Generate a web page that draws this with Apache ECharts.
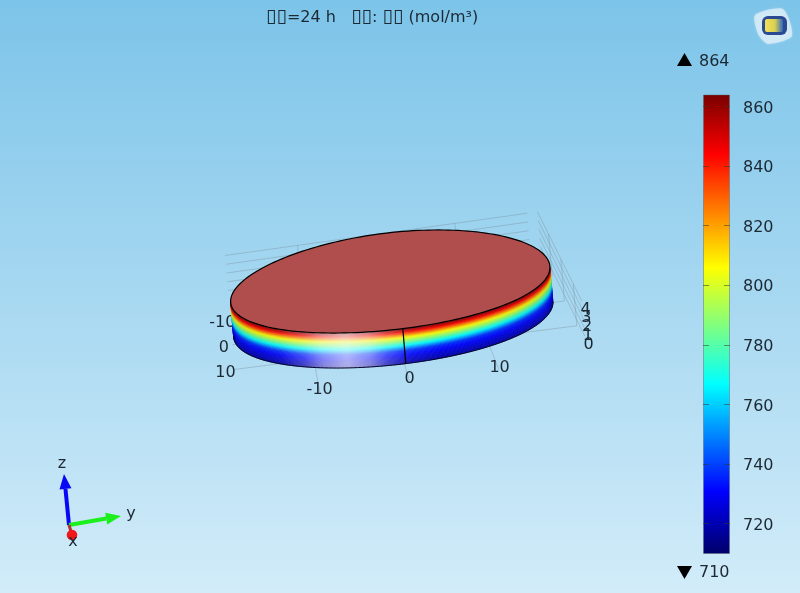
<!DOCTYPE html>
<html><head><meta charset="utf-8">
<style>html,body{margin:0;padding:0;background:#fff}#c{width:800px;height:593px}</style>
<script src="https://cdn.jsdelivr.net/npm/echarts@6/dist/echarts.min.js"></script></head>
<body><div id="c"></div>
<script>
// ---- data ----
const titleParts = ['{b|\u25AF\u25AF}=24 h   {b|\u25AF\u25AF}: {b|\u25AF\u25AF} (mol/m\u00B3)'];
const colorMax = 864, colorMin = 710;
const colorbarTicks = [720,740,760,780,800,820,840,860];
const colormapValues = [710,731,767,806,844,864];
const colormapColors = [[0,0,105],[0,0,255],[0,255,255],[255,255,0],[255,0,0],[120,0,0]];
const xTicks = [-10,0,10];
const yTicks = [-10,0,10];
const zTicks = [0,1,2,3,4];
const discRadius = 19, discHeight = 4;
// concentration on the rim against height
const sideHeights = [4,3.88,3.64,3.32,3.0,2.52,2.08,1.52,0.8,0.15,0];
const sideValues  = [862,858,845,825,805,785,765,737,727,719,715];
// rim lighting against the rim angle (degrees)
const shadeAngles = [-120,-90,-60,-30,0,30,60,90,120];
const shadeFactor = [0.8,0.85,0.93,0.98,0.98,0.96,0.9,0.8,0.72];
const glowAngles = [-56,-46,-36,-29,-20,-12,-6,2,12];
const glowAmount = [0,0.05,0.25,0.5,0.68,0.5,0.25,0.05,0];
const triadAxes = [
  {name:'z', color:'#0808f4', vec:[-5,-51], label:[-7,-61]},
  {name:'y', color:'#1cf01c', vec:[52,-9], label:[62,-11]},
  {name:'x', color:'#f01818', vec:[3,10], label:[4,17]}
];
// ---- projection of the model to the page ----
function project(x,y,z){
  return [392.5+0.7*x+8.36*y+0.026*x*y-0.75*z, 316.5+2.48*x-1.1*y-8.75*z];
}
const TXT='#1c2833', FONT='"DejaVu Sans"', WALL='rgba(125,145,160,0.42)';
const boxX=[-19,23], boxY=[-19.2,19.2], rightY=20.5, rightXEnd=17, floorZ=-0.8;
function lerp(xs,ys,v){
  if(v<=xs[0])return ys[0];
  for(let i=1;i<xs.length;i++) if(v<=xs[i]){const f=(v-xs[i-1])/(xs[i]-xs[i-1]);return ys[i-1]+f*(ys[i]-ys[i-1]);}
  return ys[ys.length-1];
}
function jet(v){
  let i=1; while(i<colormapValues.length-1&&v>colormapValues[i])i++;
  const f=Math.max(0,Math.min(1,(v-colormapValues[i-1])/(colormapValues[i]-colormapValues[i-1])));
  return colormapColors[i].map((c,k)=>colormapColors[i-1][k]+f*(c-colormapColors[i-1][k]));
}
const rgb=c=>'rgb('+c.map(Math.round).join(',')+')';
// wall + floor lines, each row is one model segment
const segs=[];
zTicks.forEach(z=>{segs.push([boxX[0],boxY[0],z,boxX[0],boxY[1],z]);segs.push([boxX[0],rightY,z,rightXEnd,rightY,z]);});
yTicks.forEach(y=>{segs.push([boxX[0],y,floorZ,boxX[0],y,4]);segs.push([boxX[0],y,floorZ,boxX[1],y,floorZ]);});
xTicks.forEach(x=>{segs.push([x,rightY,floorZ,x,rightY,4]);segs.push([x,boxY[0],floorZ,x,rightY,floorZ]);});
const labels=[];
xTicks.forEach(x=>{const p=project(x,-21,0);labels.push([p[0]+7,p[1]+8.5,String(x)]);});
yTicks.forEach(y=>{const p=project(24.5,y,0);labels.push([p[0],p[1]+2,String(y)]);});
zTicks.forEach(z=>{const p=project(20,20.5,z);labels.push([p[0],p[1]+1,String(z)]);});
// rim ribbons: one row per height step, painted bottom first, coloured across by angle
const dZ=0.1, rimLevels=[], thetaL=-91.5, thetaR=83, dT=1.5;
for(let z=0;z<discHeight-1e-6;z+=dZ) rimLevels.push([z]);
const arc=[]; for(let t=thetaL;t<=thetaR+1e-6;t+=dT) arc.push(t);
const thetas=[]; for(let t=-180;t<180;t+=2) thetas.push(t);
const rim=(t,z)=>{const r=t*Math.PI/180;return project(discRadius*Math.cos(r),discRadius*Math.sin(r),z);};
const ascH=sideHeights.slice().reverse(), ascV=sideValues.slice().reverse();

const option={
  animation:false,
  backgroundColor:{type:'linear',x:0,y:0,x2:0,y2:1,colorStops:[{offset:0,color:'#7cc4e9'},{offset:1,color:'#d2ecf9'}]},
  title:{text:titleParts[0],left:261,top:3,textStyle:{fontFamily:FONT,fontSize:16,fontWeight:'normal',color:TXT,
    rich:{b:{fontFamily:FONT,fontSize:19,color:TXT}}}},
  grid:[{left:0,top:0,width:800,height:593},{left:703,top:94.5,width:27,height:459}],
  xAxis:[{type:'value',min:0,max:800,show:false,gridIndex:0},{type:'category',data:['c'],show:false,gridIndex:1}],
  yAxis:[{type:'value',min:0,max:593,inverse:true,show:false,gridIndex:0},
    {type:'value',gridIndex:1,position:'right',min:colorMin,max:colorMax,z:5,
     axisLine:{show:false},splitLine:{show:false},
     axisTick:{show:true,inside:true,length:6,customValues:colorbarTicks,lineStyle:{color:'rgba(50,60,40,0.55)',width:1}},
     axisLabel:{customValues:colorbarTicks,margin:13,color:TXT,fontFamily:FONT,fontSize:16,verticalAlign:'top',lineHeight:4}},
    {type:'value',gridIndex:1,position:'left',min:colorMin,max:colorMax,z:5,
     axisLine:{show:false},splitLine:{show:false},axisLabel:{show:false},
     axisTick:{show:true,inside:true,length:6,customValues:colorbarTicks,lineStyle:{color:'rgba(50,60,40,0.55)',width:1}}}],
  series:[
    {type:'bar',xAxisIndex:1,yAxisIndex:1,barWidth:'100%',silent:true,data:[colorMax],
     itemStyle:{borderColor:'rgba(90,100,110,0.45)',borderWidth:1,
       color:{type:'linear',x:0,y:0,x2:0,y2:1,colorStops:colormapValues.map((v,i)=>({offset:(colorMax-v)/(colorMax-colorMin),color:rgb(colormapColors[i])})).reverse()}}},
    {type:'custom',name:'walls',coordinateSystem:'cartesian2d',silent:true,z:2,data:segs,
     renderItem:(p,api)=>{const a=project(api.value(0),api.value(1),api.value(2)),b=project(api.value(3),api.value(4),api.value(5));
       const A=api.coord(a),B=api.coord(b);
       return {type:'line',shape:{x1:A[0],y1:A[1],x2:B[0],y2:B[1]},style:{stroke:WALL,lineWidth:1}};}},
    {type:'custom',name:'tick labels',coordinateSystem:'cartesian2d',silent:true,z:3,data:labels,
     renderItem:(p,api)=>{const A=api.coord([api.value(0),api.value(1)]);
       return {type:'text',style:{x:A[0],y:A[1],text:labels[p.dataIndex][2],fill:TXT,font:'16px '+FONT,textAlign:'center',textVerticalAlign:'middle'}};}},
    {type:'custom',name:'rim',coordinateSystem:'cartesian2d',silent:true,z:4,progressive:0,data:rimLevels,
     renderItem:(p,api)=>{
       const z=api.value(0),zm=z+dZ/2,v=lerp(ascH,ascV,zm),base=jet(v);
       const upper=arc.map(t=>api.coord(rim(t,z+dZ))),lower=arc.map(t=>api.coord(rim(t,z)));
       const xs=arc.map(t=>rim(t,zm)[0]);
       const x0=Math.min.apply(null,xs),x1=Math.max.apply(null,xs);
       const stops=[]; let last=-1;
       arc.forEach((t,i)=>{
         const off=Math.max(0,Math.min(1,(xs[i]-x0)/(x1-x0)));
         if(off<=last) return; last=off;
         const sh=lerp(shadeAngles,shadeFactor,t),gl=lerp(glowAngles,glowAmount,t);
         stops.push({offset:off,color:rgb(base.map(q=>{const d=q*sh;return d+gl*(255-d);}))});
       });
       const grad={type:'linear',global:true,x:api.coord([x0,0])[0],y:0,x2:api.coord([x1,0])[0],y2:0,colorStops:stops};
       return {type:'polygon',shape:{points:upper.concat(lower.reverse())},style:{fill:grad,stroke:grad,lineWidth:0.5}};}},
    {type:'custom',name:'disc',coordinateSystem:'cartesian2d',silent:true,z:5,data:[[0]],
     renderItem:(p,api)=>{
       const topPts=thetas.map(t=>api.coord(rim(t,discHeight)));
       const botArc=arc.map(t=>api.coord(rim(t,0)));
       const seam=[api.coord(rim(0,discHeight)),api.coord(rim(0,0))];
       return {type:'group',children:[
         {type:'polyline',shape:{points:botArc},style:{fill:'none',stroke:'#05052a',lineWidth:1}},
         {type:'polyline',shape:{points:seam},style:{fill:'none',stroke:'#000',lineWidth:1.2}},
         {type:'polygon',shape:{points:topPts},style:{fill:'#b04d4d',stroke:'#000',lineWidth:1.2}}
       ]};}},
    {type:'custom',name:'triad',coordinateSystem:'cartesian2d',silent:true,z:6,data:triadAxes.map((a,i)=>[i]),
     renderItem:(p,api)=>{
       const a=triadAxes[api.value(0)],O=api.coord([69,525]);
       const E=[O[0]+a.vec[0],O[1]+a.vec[1]];
       const L={type:'text',style:{x:O[0]+a.label[0],y:O[1]+a.label[1],text:a.name,fill:TXT,font:'16px '+FONT,textAlign:'center',textVerticalAlign:'middle'}};
       if(a.name==='x'){
         return {type:'group',children:[
           {type:'line',shape:{x1:O[0],y1:O[1],x2:E[0],y2:E[1]},style:{stroke:'#b03030',lineWidth:3}},
           {type:'circle',shape:{cx:E[0],cy:E[1],r:5.3},style:{fill:a.color}},L]};
       }
       const len=Math.hypot(a.vec[0],a.vec[1]),u=[a.vec[0]/len,a.vec[1]/len],n=[-u[1],u[0]];
       const B=[E[0]-u[0]*15,E[1]-u[1]*15];
       return {type:'group',children:[
         {type:'line',shape:{x1:O[0],y1:O[1],x2:B[0],y2:B[1]},style:{stroke:a.color,lineWidth:4}},
         {type:'polygon',shape:{points:[E,[B[0]+n[0]*6,B[1]+n[1]*6],[B[0]-n[0]*6,B[1]-n[1]*6]]},style:{fill:a.color}},L]};
     }}
  ],
  graphic:[
    {type:'polygon',shape:{points:[[677,66],[692,66],[684.5,53]]},style:{fill:'#000'}},
    {type:'text',style:{x:699,y:62,text:String(colorMax),fill:TXT,font:'16px '+FONT,textVerticalAlign:'middle'}},
    {type:'polygon',shape:{points:[[677,566],[692,566],[684.5,579]]},style:{fill:'#000'}},
    {type:'text',style:{x:699,y:573,text:String(colorMin),fill:TXT,font:'16px '+FONT,textVerticalAlign:'middle'}},
    {type:'polygon',shape:{points:[[755,15],[783,9],[792,36],[768,44],[758,34]],smooth:0.25},style:{fill:'rgba(240,246,250,0.62)',shadowBlur:3,shadowColor:'rgba(235,245,250,0.5)'}},
    {type:'rect',shape:{x:762,y:16,width:25,height:19,r:6},style:{fill:'#2a4a94'}},
    {type:'rect',shape:{x:765,y:19,width:18,height:13,r:2},style:{fill:{type:'linear',x:0,y:0,x2:1,y2:0,colorStops:[{offset:0,color:'#f2e05a'},{offset:0.55,color:'#d9d050'},{offset:1,color:'#2f68c0'}]}}}
  ]
};
echarts.init(document.getElementById('c'),null,{renderer:'canvas'}).setOption(option);
</script></body></html>
